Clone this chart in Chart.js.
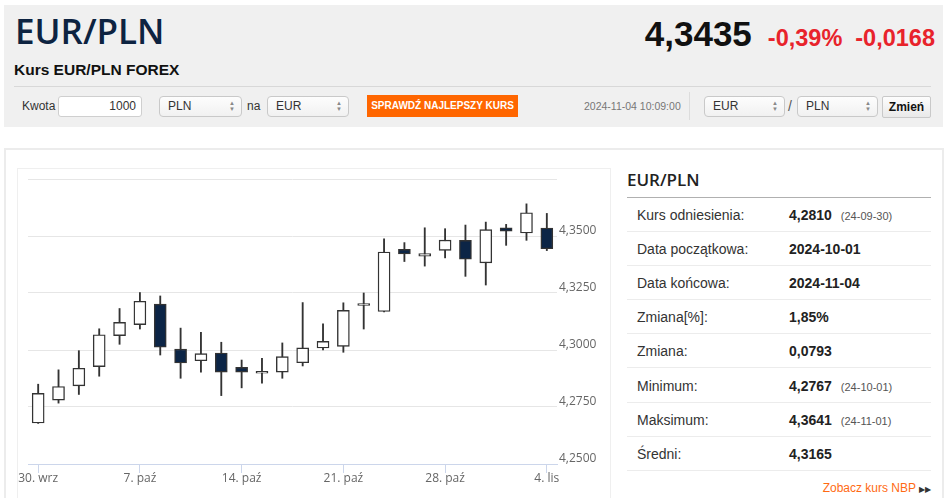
<!DOCTYPE html>
<html lang="pl">
<head>
<meta charset="utf-8">
<title>Kurs EUR/PLN FOREX</title>
<script src="https://cdn.jsdelivr.net/npm/chart.js@4.4.1/dist/chart.umd.min.js"></script>
<style>
  html, body { margin: 0; padding: 0; background: #fff; }
  body { width: 948px; height: 498px; position: relative; overflow: hidden;
         font-family: "Liberation Sans", Arial, sans-serif; color: #333; }
  .abs { position: absolute; white-space: nowrap; }
  #header { left: 4px; top: 5px; width: 939px; height: 122px; background: #f0f0f0; }
  #title { left: 15px; top: 13px; font: 600 35px/35px "Open Sans", sans-serif; color: #0d2341; }
  #subtitle { left: 14px; top: 62px; font: bold 15.5px/15.5px "Liberation Sans", Arial, sans-serif; color: #111; }
  #quote { right: 13px; top: 16px; display: flex; align-items: baseline; font-weight: bold; line-height: 35px; }
  #quote .last { font-size: 35px; color: #111; margin-right: 16px; }
  #quote .chg { font-size: 23.5px; color: #e8232b; margin-right: 13px; }
  #quote .chg2 { font-size: 23.5px; color: #e8232b; }
  #sep { left: 14px; top: 86px; width: 917px; height: 1px; background: #d8d8d8; }
  .lbl { font-size: 12px; line-height: 21px; top: 96px; color: #333; }
  .input { top: 96px; height: 19px; border: 1px solid #cfcfcf; border-radius: 3px; background: #fff;
           font-size: 12px; line-height: 19px; text-align: right; padding-right: 5px; box-sizing: content-box; }
  .select { top: 96px; height: 19px; border: 1px solid #c9c9c9; border-radius: 4px;
            background: linear-gradient(#fdfdfd, #f1f1f1); font-size: 12px; line-height: 19px; }
  .select span.t { position: absolute; left: 8px; top: 0; }
  .select span.a { position: absolute; right: 6px; top: 3px; font-size: 6px; line-height: 6px; color: #888; }
  #btn { left: 367px; top: 95px; width: 151px; height: 22px; background: #ff6600; color: #fff;
         font-size: 10px; font-weight: bold; line-height: 22px; text-align: center; }
  #stamp { left: 584px; top: 96px; font-size: 10.5px; line-height: 21px; color: #777; }
  #vsep { left: 689px; top: 92px; width: 1px; height: 28px; background: #dcdcdc; }
  #zmien { left: 882px; top: 96px; width: 47px; height: 20px; border: 1px solid #c9c9c9; border-radius: 2px;
           background: linear-gradient(#fdfdfd, #e9e9e9); font-size: 12px; font-weight: bold; line-height: 20px; text-align: center; color: #111; }
  #panel { left: 4px; top: 148px; width: 936px; height: 400px; border: 2px solid #ececec; background: #fff; }
  #inner { left: 17px; top: 168px; width: 592px; height: 400px; border: 1px solid #efefef; border-bottom: none; }
  #chartBox { left: 18px; top: 169px; width: 592px; height: 325px; }
  #statTitle { left: 627px; top: 171px; font: 600 17px/17px "Open Sans", sans-serif; color: #222; }
  #statLine { left: 627px; top: 197px; width: 304px; height: 1px; background: #b0b0b0; }
  .row { left: 627px; width: 304px; height: 33px; border-bottom: 1px solid #ececec; font-size: 14px; line-height: 34px; }
  .row .k { position: absolute; left: 10px; color: #333; }
  .row .v { position: absolute; left: 162px; font-weight: bold; color: #222; }
  .row .d { font-size: 11px; font-weight: normal; color: #555; margin-left: 9px; }
  #nbp { right: 17px; top: 480px; font-size: 12px; line-height: 16px; color: #ff6a13; }
  #nbp span { color: #333; font-size: 8px; margin-left: 3px; }
</style>
</head>
<body>
<div class="abs" id="header"></div>
<div class="abs" id="title">EUR/PLN</div>
<div class="abs" id="subtitle">Kurs EUR/PLN FOREX</div>
<div class="abs" id="quote"><span class="last">4,3435</span><span class="chg">-0,39%</span><span class="chg2">-0,0168</span></div>
<div class="abs" id="sep"></div>

<div class="abs lbl" style="left:22px">Kwota</div>
<div class="abs input" style="left:58px;width:77px">1000</div>
<div class="abs select" style="left:159px;width:81px"><span class="t">PLN</span><span class="a">▲<br>▼</span></div>
<div class="abs lbl" style="left:247px">na</div>
<div class="abs select" style="left:267px;width:80px"><span class="t">EUR</span><span class="a">▲<br>▼</span></div>
<div class="abs" id="btn">SPRAWDŹ NAJLEPSZY KURS</div>
<div class="abs" id="stamp">2024-11-04 10:09:00</div>
<div class="abs" id="vsep"></div>
<div class="abs select" style="left:704px;width:79px"><span class="t">EUR</span><span class="a">▲<br>▼</span></div>
<div class="abs lbl" style="left:788px;font-size:14px;color:#555">/</div>
<div class="abs select" style="left:797px;width:79px"><span class="t">PLN</span><span class="a">▲<br>▼</span></div>
<div class="abs" id="zmien">Zmień</div>

<div class="abs" id="panel"></div>
<div class="abs" id="inner"></div>
<div class="abs" id="chartBox"><canvas id="chart"></canvas></div>

<div class="abs" id="statTitle">EUR/PLN</div>
<div class="abs" id="statLine"></div>
<div id="stats"></div>
<div class="abs" id="nbp">Zobacz kurs NBP<span>▶▶</span></div>

<script>
// trading days shown on the chart
const categories = [
  '2024-09-30', '2024-10-01', '2024-10-02', '2024-10-03', '2024-10-04',
  '2024-10-07', '2024-10-08', '2024-10-09', '2024-10-10', '2024-10-11',
  '2024-10-14', '2024-10-15', '2024-10-16', '2024-10-17', '2024-10-18',
  '2024-10-21', '2024-10-22', '2024-10-23', '2024-10-24', '2024-10-25',
  '2024-10-28', '2024-10-29', '2024-10-30', '2024-10-31', '2024-11-01',
  '2024-11-04'
];

const opens = [
  4.2680, 4.2780, 4.2843, 4.2927, 4.3063,
  4.3111, 4.3201, 4.3004, 4.2953, 4.2987,
  4.2924, 4.2898, 4.2903, 4.2944, 4.3009,
  4.3016, 4.3195, 4.3169, 4.3441, 4.3412,
  4.3437, 4.3481, 4.3382, 4.3536, 4.3513,
  4.3535
];
const highs = [
  4.2850, 4.2913, 4.2997, 4.3093, 4.3182,
  4.3252, 4.3237, 4.3096, 4.3077, 4.3034,
  4.2956, 4.2964, 4.3031, 4.3208, 4.3115,
  4.3207, 4.3250, 4.3488, 4.3471, 4.3536,
  4.3532, 4.3548, 4.3561, 4.3551, 4.3641,
  4.3599
];
const lows = [
  4.2678, 4.2767, 4.2805, 4.2885, 4.3025,
  4.3092, 4.2978, 4.2876, 4.2903, 4.2800,
  4.2834, 4.2854, 4.2876, 4.2930, 4.3000,
  4.2990, 4.3092, 4.3167, 4.3388, 4.3368,
  4.3404, 4.3323, 4.3285, 4.3459, 4.3481,
  4.3436
];
const closes = [
  4.2810, 4.2840, 4.2920, 4.3067, 4.3121,
  4.3214, 4.3012, 4.2943, 4.2984, 4.2903,
  4.2903, 4.2898, 4.2971, 4.3009, 4.3038,
  4.3174, 4.3195, 4.3430, 4.3421, 4.3423,
  4.3482, 4.3398, 4.3528, 4.3521, 4.3602,
  4.3444
];

// x axis labels (Mondays)
const tickDates = ['2024-09-30', '2024-10-07', '2024-10-14', '2024-10-21', '2024-10-28', '2024-11-04'];
const tickLabels = ['30. wrz', '7. paź', '14. paź', '21. paź', '28. paź', '4. lis'];

// y axis
const yMin = 4.25;
const yMax = 4.375;
const yStep = 0.025;

// summary table
const statLabels = ['Kurs odniesienia:', 'Data początkowa:', 'Data końcowa:', 'Zmiana[%]:', 'Zmiana:', 'Minimum:', 'Maksimum:', 'Średni:'];
const statValues = ['4,2810', '2024-10-01', '2024-11-04', '1,85%', '0,0793', '4,2767', '4,3641', '4,3165'];
const statDates = ['(24-09-30)', '', '', '', '', '(24-10-01)', '(24-11-01)', ''];

const statsEl = document.getElementById('stats');
statLabels.forEach((label, i) => {
    const row = document.createElement('div');
    row.className = 'abs row';
    row.style.top = (198 + i * 34.1) + 'px';
    row.innerHTML = '<span class="k">' + label + '</span><span class="v">' + statValues[i] +
        (statDates[i] ? '<span class="d">' + statDates[i] + '</span>' : '') + '</span>';
    statsEl.appendChild(row);
});

const UP_FILL = '#ffffff';
const DOWN_FILL = '#0c2546';
const LINE = '#333333';

const bodies = categories.map((d, i) => [opens[i], closes[i]]);
const wicks = categories.map((d, i) => [lows[i], highs[i]]);
const fills = categories.map((d, i) => (closes[i] >= opens[i] ? UP_FILL : DOWN_FILL));

const tickFont = { family: '"Open Sans", sans-serif', size: 12, lineHeight: 1 };

new Chart(document.getElementById('chart'), {
    type: 'bar',
    data: {
        labels: categories,
        datasets: [
            {
                label: 'body',
                data: bodies,
                backgroundColor: fills,
                borderColor: LINE,
                borderWidth: 1.4,
                borderSkipped: false,
                barThickness: 12,
                minBarLength: 2,
                grouped: false,
                order: 1
            },
            {
                label: 'wick',
                data: wicks,
                backgroundColor: LINE,
                borderWidth: 0,
                barThickness: 1.2,
                grouped: false,
                order: 2
            }
        ]
    },
    options: {
        responsive: true,
        maintainAspectRatio: false,
        animation: false,
        layout: { padding: { left: 10, top: 10, right: 0, bottom: 0 } },
        plugins: {
            legend: { display: false },
            tooltip: { enabled: false }
        },
        scales: {
            x: {
                offset: true,
                border: { display: true, color: '#ccd6eb', width: 1 },
                grid: {
                    drawOnChartArea: false,
                    drawTicks: true,
                    tickLength: 9,
                    offset: false,
                    tickColor: (ctx) => (tickDates.includes(categories[ctx.index]) ? '#ccd6eb' : 'rgba(0,0,0,0)')
                },
                ticks: {
                    autoSkip: false,
                    maxRotation: 0,
                    padding: 0,
                    color: '#666',
                    font: tickFont,
                    callback: function (value, index) {
                        const k = tickDates.indexOf(categories[index]);
                        return k >= 0 ? tickLabels[k] : '';
                    }
                },
                afterFit(scale) {
                    scale.height = 30;
                }
            },
            y: {
                position: 'right',
                min: yMin,
                max: yMax,
                border: { display: false },
                grid: { color: '#e6e6e6', drawTicks: false },
                ticks: {
                    stepSize: yStep,
                    padding: 2,
                    labelOffset: -5,
                    color: '#666',
                    font: tickFont,
                    callback: (value) => (value >= yMax - 1e-9 ? '' : value.toFixed(4).replace('.', ','))
                },
                afterFit(scale) {
                    scale.width = 53;
                }
            }
        }
    }
});
</script>
</body>
</html>
